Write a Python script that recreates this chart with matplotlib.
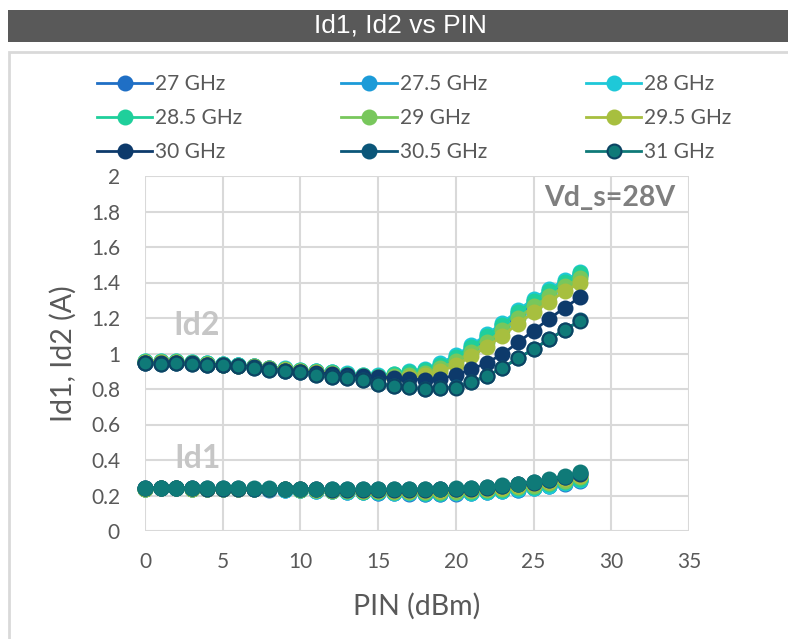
import matplotlib
matplotlib.use("Agg")
import matplotlib.pyplot as plt
from matplotlib.patches import Rectangle

# Input power sweep (dBm)
pin = list(range(29))

freqs = ["27 GHz", "27.5 GHz", "28 GHz", "28.5 GHz", "29 GHz",
         "29.5 GHz", "30 GHz", "30.5 GHz", "31 GHz"]
colors = ["#1f6fc5", "#1c9bd8", "#1ec8d8", "#1fcf9b", "#78c75c",
          "#a7bf3f", "#0d3a6b", "#0b5679", "#0f7a78"]

# Id2 (A) per frequency
id2_27   = [0.952, 0.953, 0.953, 0.948, 0.943, 0.938, 0.933, 0.928, 0.918, 0.913, 0.903, 0.898, 0.891, 0.882, 0.873, 0.870, 0.874, 0.885, 0.897, 0.925, 0.968, 1.020, 1.080, 1.145, 1.215, 1.280, 1.338, 1.392, 1.440]
id2_27_5 = [0.954, 0.954, 0.954, 0.949, 0.944, 0.939, 0.934, 0.929, 0.919, 0.914, 0.904, 0.899, 0.893, 0.885, 0.876, 0.874, 0.880, 0.893, 0.906, 0.936, 0.980, 1.033, 1.093, 1.158, 1.228, 1.293, 1.350, 1.402, 1.450]
id2_28   = [0.956, 0.957, 0.957, 0.951, 0.946, 0.941, 0.936, 0.931, 0.921, 0.916, 0.906, 0.901, 0.896, 0.888, 0.880, 0.878, 0.886, 0.900, 0.915, 0.945, 0.990, 1.046, 1.108, 1.172, 1.243, 1.309, 1.365, 1.412, 1.460]
id2_28_5 = [0.955, 0.956, 0.956, 0.950, 0.945, 0.940, 0.935, 0.930, 0.920, 0.915, 0.905, 0.900, 0.894, 0.886, 0.878, 0.876, 0.882, 0.895, 0.909, 0.938, 0.982, 1.036, 1.097, 1.162, 1.232, 1.297, 1.353, 1.402, 1.452]
id2_29   = [0.953, 0.954, 0.954, 0.948, 0.943, 0.938, 0.932, 0.927, 0.918, 0.912, 0.903, 0.897, 0.890, 0.880, 0.871, 0.867, 0.871, 0.881, 0.892, 0.918, 0.958, 1.008, 1.066, 1.130, 1.200, 1.265, 1.323, 1.378, 1.428]
id2_29_5 = [0.950, 0.951, 0.951, 0.946, 0.940, 0.935, 0.930, 0.924, 0.915, 0.909, 0.900, 0.893, 0.886, 0.876, 0.866, 0.861, 0.863, 0.869, 0.877, 0.900, 0.936, 0.984, 1.038, 1.100, 1.168, 1.232, 1.292, 1.350, 1.400]
id2_30   = [0.947, 0.945, 0.947, 0.944, 0.938, 0.938, 0.931, 0.922, 0.913, 0.904, 0.898, 0.890, 0.885, 0.877, 0.871, 0.869, 0.861, 0.856, 0.852, 0.857, 0.879, 0.910, 0.948, 0.997, 1.062, 1.129, 1.195, 1.258, 1.318]
id2_30_5 = [0.945, 0.942, 0.944, 0.941, 0.934, 0.935, 0.927, 0.918, 0.908, 0.899, 0.893, 0.878, 0.867, 0.861, 0.852, 0.830, 0.818, 0.810, 0.800, 0.804, 0.810, 0.839, 0.875, 0.919, 0.975, 1.025, 1.082, 1.134, 1.186]
id2_31   = [0.945, 0.942, 0.944, 0.941, 0.934, 0.935, 0.927, 0.918, 0.908, 0.899, 0.893, 0.877, 0.866, 0.860, 0.851, 0.828, 0.817, 0.810, 0.798, 0.803, 0.808, 0.838, 0.873, 0.918, 0.973, 1.023, 1.080, 1.132, 1.184]

# Id1 (A) per frequency
id1_27   = [0.238, 0.240, 0.240, 0.238, 0.237, 0.236, 0.235, 0.234, 0.233, 0.232, 0.229, 0.226, 0.223, 0.220, 0.217, 0.215, 0.213, 0.211, 0.210, 0.210, 0.211, 0.213, 0.217, 0.223, 0.230, 0.240, 0.251, 0.266, 0.283]
id1_27_5 = [0.238, 0.240, 0.240, 0.238, 0.237, 0.236, 0.236, 0.235, 0.234, 0.233, 0.230, 0.227, 0.224, 0.221, 0.218, 0.216, 0.214, 0.212, 0.211, 0.211, 0.212, 0.214, 0.219, 0.225, 0.232, 0.242, 0.253, 0.268, 0.286]
id1_28   = [0.238, 0.240, 0.240, 0.238, 0.237, 0.237, 0.236, 0.235, 0.234, 0.233, 0.231, 0.228, 0.225, 0.222, 0.219, 0.217, 0.215, 0.214, 0.213, 0.213, 0.214, 0.216, 0.221, 0.227, 0.235, 0.245, 0.256, 0.271, 0.289]
id1_28_5 = [0.239, 0.241, 0.241, 0.239, 0.238, 0.237, 0.237, 0.236, 0.235, 0.234, 0.232, 0.229, 0.226, 0.224, 0.221, 0.219, 0.218, 0.217, 0.216, 0.216, 0.217, 0.220, 0.225, 0.231, 0.240, 0.250, 0.262, 0.277, 0.295]
id1_29   = [0.239, 0.241, 0.241, 0.239, 0.238, 0.238, 0.237, 0.236, 0.236, 0.235, 0.233, 0.230, 0.228, 0.226, 0.224, 0.223, 0.222, 0.221, 0.220, 0.221, 0.222, 0.225, 0.230, 0.237, 0.246, 0.256, 0.268, 0.284, 0.302]
id1_29_5 = [0.239, 0.241, 0.241, 0.239, 0.238, 0.238, 0.238, 0.237, 0.237, 0.236, 0.234, 0.232, 0.230, 0.229, 0.228, 0.227, 0.226, 0.226, 0.226, 0.227, 0.229, 0.232, 0.237, 0.244, 0.253, 0.263, 0.276, 0.292, 0.310]
id1_30   = [0.240, 0.242, 0.242, 0.240, 0.239, 0.239, 0.239, 0.238, 0.238, 0.237, 0.236, 0.234, 0.233, 0.232, 0.231, 0.231, 0.231, 0.232, 0.233, 0.234, 0.236, 0.239, 0.245, 0.253, 0.262, 0.273, 0.287, 0.304, 0.322]
id1_30_5 = [0.240, 0.242, 0.242, 0.240, 0.240, 0.240, 0.240, 0.239, 0.239, 0.238, 0.237, 0.236, 0.235, 0.235, 0.234, 0.234, 0.234, 0.235, 0.236, 0.237, 0.239, 0.242, 0.248, 0.256, 0.265, 0.276, 0.290, 0.307, 0.326]
id1_31   = [0.240, 0.243, 0.243, 0.241, 0.240, 0.240, 0.240, 0.240, 0.240, 0.239, 0.238, 0.237, 0.236, 0.236, 0.235, 0.235, 0.236, 0.236, 0.237, 0.238, 0.240, 0.244, 0.250, 0.258, 0.267, 0.278, 0.292, 0.310, 0.330]

id2_all = [id2_27, id2_27_5, id2_28, id2_28_5, id2_29, id2_29_5, id2_30, id2_30_5, id2_31]
id1_all = [id1_27, id1_27_5, id1_28, id1_28_5, id1_29, id1_29_5, id1_30, id1_30_5, id1_31]

xticks = [0, 5, 10, 15, 20, 25, 30, 35]
yticks = [0, 0.2, 0.4, 0.6, 0.8, 1, 1.2, 1.4, 1.6, 1.8, 2]

plt.rcParams['font.family'] = ['Lato', 'DejaVu Sans']
text_gray = "#595959"
grid_gray = "#d9d9d9"

fig = plt.figure(figsize=(7.88, 6.39), dpi=100)
W, H = 788, 639

# header bar and chart frame (kept behind the axes)
fig.patches.append(Rectangle((8 / W, 1 - 42 / H), 1, 32 / H, transform=fig.transFigure,
                             facecolor="#595959", edgecolor="none", zorder=-2))
fig.patches.append(Rectangle((9 / W, -0.1), 1, 1 - 52 / H + 0.1, transform=fig.transFigure,
                             facecolor="white", edgecolor="#d9d9d9", linewidth=2, zorder=-2))
fig.text(400 / W, 1 - 26 / H, "Id1, Id2 vs PIN", color="white", fontsize=19,
         ha="center", va="center", family=["Liberation Sans Narrow", "Liberation Sans"])

ax = fig.add_axes([145 / W, 1 - 531 / H, (689 - 145) / W, (531 - 176) / H])
ax.patch.set_alpha(0)

handles = []
for name, col, y2, y1 in zip(freqs, colors, id2_all, id1_all):
    ec = "#0c4463" if name == "31 GHz" else col
    h, = ax.plot(pin, y2, color=col, lw=2, marker="o", markersize=10,
                 markerfacecolor=col, markeredgecolor=ec, markeredgewidth=1.5,
                 label=name, clip_on=False)
    ax.plot(pin, y1, color=col, lw=2, marker="o", markersize=10,
            markerfacecolor=col, markeredgecolor=col, markeredgewidth=1.5, clip_on=False)
    handles.append(h)

ax.set_xlim(0, 35)
ax.set_ylim(0, 2)
ax.set_xticks(xticks)
ax.set_yticks(yticks)
ax.set_yticklabels(["0", "0.2", "0.4", "0.6", "0.8", "1", "1.2", "1.4", "1.6", "1.8", "2"])
ax.grid(True, color=grid_gray, lw=1.5)
ax.set_axisbelow(True)
for s in ax.spines.values():
    s.set_visible(False)
ax.tick_params(length=0, labelsize=15, labelcolor=text_gray)
ax.tick_params(axis="x", pad=15)
ax.tick_params(axis="y", pad=18)
ax.set_xlabel("PIN (dBm)", fontsize=20.5, color=text_gray, labelpad=15)
ax.set_ylabel("Id1, Id2 (A)", fontsize=20.5, color=text_gray, labelpad=10)

ax.text(3.35, 1.155, "Id2", fontsize=23, fontweight="bold", color="#c6c6c6", ha="center", va="center")
ax.text(3.35, 0.41, "Id1", fontsize=23, fontweight="bold", color="#c6c6c6", ha="center", va="center")
ax.text(29.9, 1.876, "Vd_s=28V", fontsize=20.5, fontweight="bold", color="#7f7f7f", ha="center", va="center")

# legend laid out row-wise in 3 columns
order = [0, 3, 6, 1, 4, 7, 2, 5, 8]
fig.legend([handles[i] for i in order], [freqs[i] for i in order],
           ncol=3, loc="upper left", bbox_to_anchor=(97 / W, 1 - 74 / H),
           frameon=False, fontsize=15, labelcolor=text_gray, handlelength=2.65,
           handletextpad=0.15, columnspacing=4.75, labelspacing=0.68,
           borderpad=0, borderaxespad=0)

fig.savefig("out.png", dpi=100)
